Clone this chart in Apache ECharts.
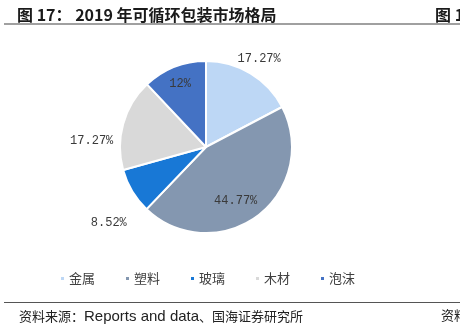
<!DOCTYPE html>
<html>
<head>
<meta charset="utf-8">
<script src="https://cdn.jsdelivr.net/npm/echarts@6/dist/echarts.min.js"></script>
<style>
html,body{margin:0;padding:0;background:#fff;}
#c{width:460px;height:330px;}
</style>
</head>
<body>
<div id="c"></div>
<script>
const categories = ['金属', '塑料', '玻璃', '木材', '泡沫'];
const values = [17.27, 44.77, 8.52, 17.27, 12];
const valueLabels = ['17.27%', '44.77%', '8.52%', '17.27%', '12%'];
const colors = ['#BDD7F5', '#8497B0', '#1878D6', '#D9D9D9', '#4472C4'];
const labelPlacement = ['outside', 'inside', 'outside', 'outside', 'inside'];
const labelShift = [[-20, -11], [2, 17], [3, 30], [-1, 18], [-9, -20]];

const chart = echarts.init(document.getElementById('c'), null, {renderer: 'canvas'});
const cjk = '"Noto Sans CJK SC", sans-serif';

const option = {
  backgroundColor: '#fff',
  animation: false,
  title: [
    {
      text: '{a|图 17：}{b| 2019 年可循环包装市场格局}',
      left: 12, top: 2,
      textStyle: {
        rich: {
          a: {fontFamily: cjk, fontSize: 16, fontWeight: 'bold', color: '#1a1a1a'},
          b: {fontFamily: cjk, fontSize: 16, fontWeight: 'bold', color: '#1a1a1a'}
        }
      }
    },
    {
      text: '图 18',
      left: 430, top: 2,
      textStyle: {fontFamily: cjk, fontSize: 16, fontWeight: 'bold', color: '#1a1a1a'}
    },
    {
      text: '{c|资料来源：}{l|Reports and data}{c|、国海证券研究所}',
      left: 14, top: 304,
      textStyle: {
        fontWeight: 'normal',
        rich: {
          c: {fontFamily: cjk, fontSize: 13, fontWeight: 'normal', color: '#222'},
          l: {fontFamily: '"Liberation Sans", Arial, sans-serif', fontSize: 15, fontWeight: 'normal', color: '#222'}
        }
      }
    },
    {
      text: '资料',
      left: 436, top: 304,
      textStyle: {fontFamily: cjk, fontSize: 13, fontWeight: 'normal', color: '#222'}
    }
  ],
  graphic: [
    {type: 'line', shape: {x1: 4, y1: 24, x2: 460, y2: 24}, style: {stroke: '#808080', lineWidth: 1.5}},
    {type: 'line', shape: {x1: 4, y1: 302.5, x2: 460, y2: 302.5}, style: {stroke: '#555', lineWidth: 1}}
  ],
  color: colors,
  legend: {
    data: categories,
    left: 54, top: 267,
    icon: 'rect',
    itemWidth: 5, itemHeight: 5,
    itemGap: 29,
    textStyle: {fontFamily: cjk, fontSize: 13, color: '#404040', padding: [0, 0, 0, -1]}
  },
  series: [{
    type: 'pie',
    center: [206, 147],
    radius: [0, 86],
    startAngle: 90,
    clockwise: true,
    avoidLabelOverlap: false,
    itemStyle: {borderColor: '#fff', borderWidth: 2},
    label: {
      fontFamily: '"Liberation Mono", monospace',
      fontSize: 12,
      color: '#3a3a3a'
    },
    labelLine: {show: false, length: 4, length2: 0},
    labelLayout: function (p) {
      const s = labelShift[p.dataIndex];
      return {dx: s[0], dy: s[1]};
    },
    data: categories.map((name, i) => ({
      name: name,
      value: values[i],
      label: {position: labelPlacement[i], formatter: valueLabels[i]}
    }))
  }]
};
chart.setOption(option);
</script>
</body>
</html>
